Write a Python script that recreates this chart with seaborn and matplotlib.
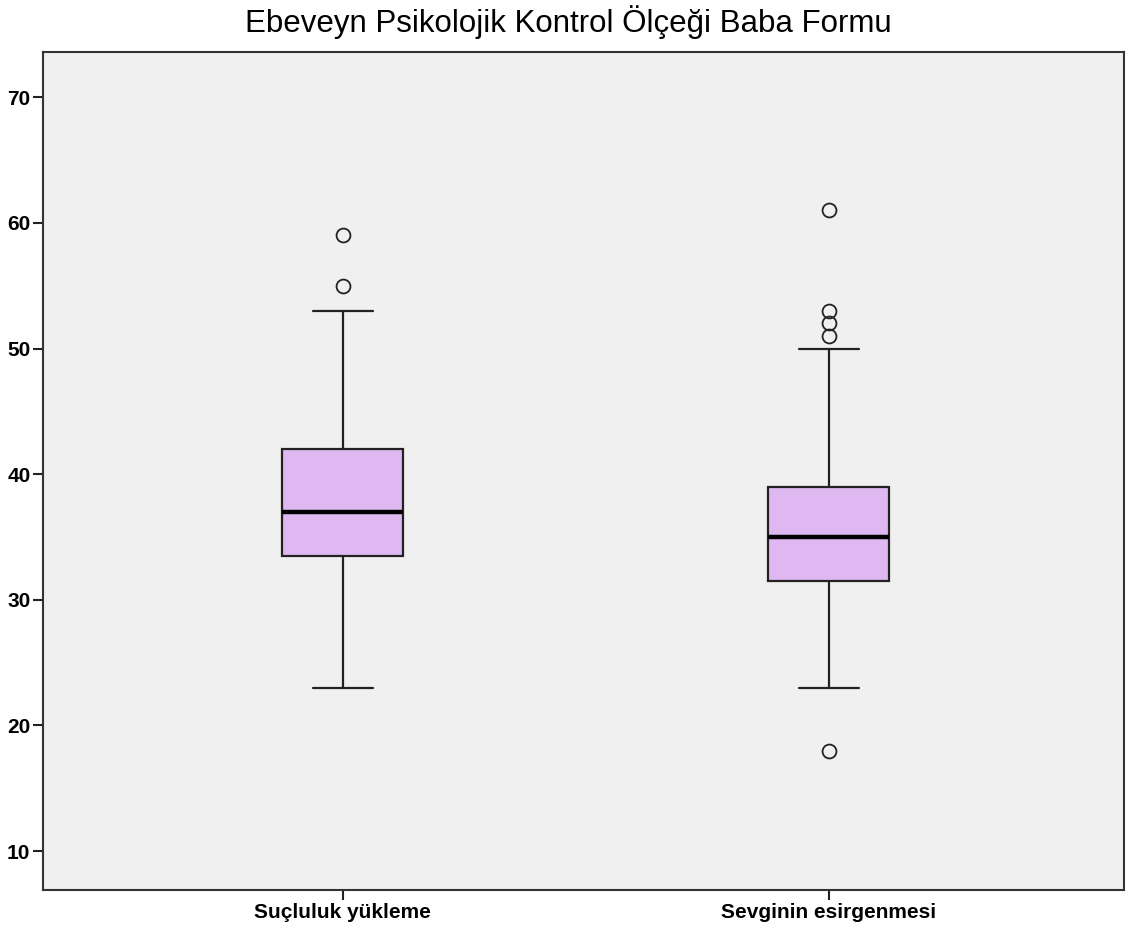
import numpy as np
import pandas as pd
import matplotlib
matplotlib.use("Agg")
import matplotlib.pyplot as plt
import seaborn as sns

# Categories and sample values (chosen so quartiles/whiskers/outliers match the picture)
categories = ["Suçluluk yükleme", "Sevginin esirgenmesi"]
sucluluk = [23, 33.5, 33.5, 33.5, 37, 37, 37, 42, 42, 42, 53, 55, 59]
sevgi = [18, 23, 31.5, 31.5, 31.5, 31.5, 35, 35, 35, 35, 35,
         39, 39, 39, 39, 39, 50, 51, 52, 53, 61]
yticks = [10, 20, 30, 40, 50, 60, 70]
title = "Ebeveyn Psikolojik Kontrol Ölçeği Baba Formu"

df = pd.DataFrame({
    "grp": [categories[0]] * len(sucluluk) + [categories[1]] * len(sevgi),
    "val": sucluluk + sevgi,
})

sns.set_theme(style="ticks")
plt.rcParams["font.family"] = ["Liberation Sans", "DejaVu Sans"]

fig = plt.figure(figsize=(11.26, 9.34), dpi=100)
ax = fig.add_axes([43 / 1126, 1 - 890 / 934, (1124 - 43) / 1126, (890 - 52) / 934])
ax.set_facecolor("#F0F0F0")

sns.boxplot(
    data=df, x="grp", y="val", order=categories, ax=ax,
    color="#DFB8F2", width=0.249, saturation=1,
    linecolor="#222222", linewidth=1.6,
    medianprops=dict(color="black", linewidth=3.2),
    flierprops=dict(marker="o", markersize=10, markerfacecolor="none",
                    markeredgecolor="#222222", markeredgewidth=1.3),
)

ax.set_xlim(-0.617, 1.607)
ax.set_ylim(6.9, 73.6)
ax.set_yticks(yticks)
ax.set_yticklabels([str(t) for t in yticks], fontsize=15, fontweight="bold", color="black")
ax.set_xticks([0, 1])
ax.set_xticklabels(categories, fontsize=15, fontweight="bold", color="black")
ax.set_xlabel("")
ax.set_ylabel("")
ax.tick_params(axis="both", direction="out", length=7, width=1.5, color="#222222", pad=2)
for s in ax.spines.values():
    s.set_visible(True)
    s.set_color("#333333")
    s.set_linewidth(1.5)

fig.text(568 / 1126, 1 - 32 / 934, title, ha="center", va="baseline", fontsize=22.5, color="black")

fig.savefig("out.png", dpi=100, facecolor="white")
